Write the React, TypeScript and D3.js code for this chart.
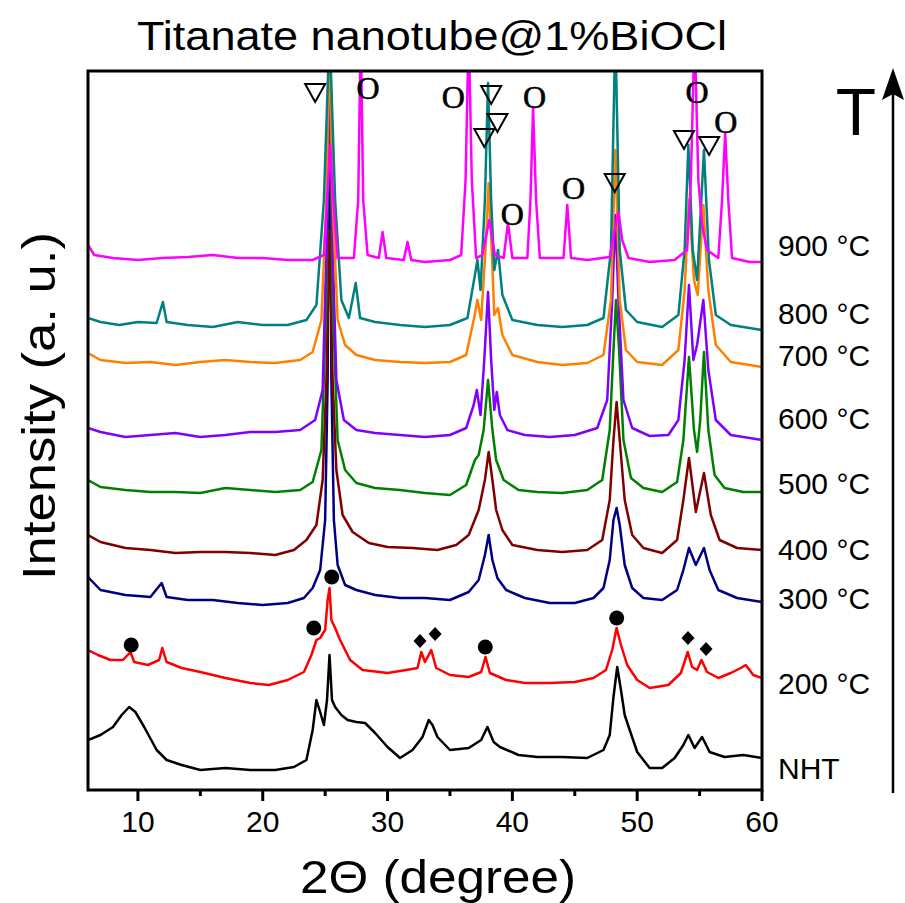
import React from "react";
import * as d3 from "d3";

type Pt = [number, number];

// ---------- data (2θ in degree, intensity in a.u. with stacking offset) ----------
const seriesLabels = ["NHT", "200 °C", "300 °C", "400 °C", "500 °C", "600 °C", "700 °C", "800 °C", "900 °C"];
const seriesColors = ["#000000", "#ff0000", "#000080", "#800000", "#008000", "#8000ff", "#ff8000", "#008080", "#ff00ff"];
const labelLevels = [22, 107, 192, 241, 307, 372, 435, 477, 545];

const xTicks = [10, 20, 30, 40, 50, 60];
const xMinorTicks = [15, 25, 35, 45, 55];

const nht: Pt[] = [
  [6, 50], [7, 55], [8, 63], [8.7, 75], [9.3, 83], [9.8, 78], [10.5, 63], [11.5, 40], [12.3, 30], [13.5, 25],
  [15, 20], [17, 22], [19, 20], [21, 20], [22.5, 23], [23.5, 30], [24, 60], [24.3, 90], [24.6, 78], [24.9, 65],
  [25.15, 90], [25.35, 135], [25.55, 90], [25.8, 83], [26.3, 75], [26.8, 70], [27.5, 68], [28.2, 67], [29, 57],
  [30, 43], [31, 32], [32, 40], [32.8, 53], [33.3, 70], [33.6, 65], [34, 53], [35, 40], [36.5, 42], [37.5, 50],
  [38, 63], [38.5, 48], [39, 43], [40.5, 35], [42, 33], [44, 33], [46, 32], [47.3, 40], [47.8, 55], [48.1, 93],
  [48.4, 123], [48.7, 100], [49, 75], [49.4, 60], [50, 38], [51, 22], [52, 22], [53, 32], [53.7, 45], [54.1, 55],
  [54.6, 42], [55.2, 53], [55.8, 38], [57, 33], [58.5, 35], [60, 32],
];

const t200: Pt[] = [
  [6, 140], [6.8, 135], [7.8, 130], [8.8, 130], [9.4, 138], [9.7, 128], [10.8, 125], [11.7, 130], [11.95, 142],
  [12.3, 128], [13.5, 122], [15, 118], [17, 112], [19, 107], [20.5, 105], [22, 110], [23.3, 118], [23.9, 135],
  [24.3, 150], [24.6, 152], [25, 160], [25.2, 190], [25.35, 202], [25.5, 170], [25.8, 162], [26.2, 150], [27, 130],
  [28, 120], [30, 117], [31.5, 120], [32.4, 122], [32.7, 138], [33, 128], [33.5, 140], [33.9, 122], [35, 115],
  [36.5, 113], [37.5, 118], [37.85, 133], [38.2, 117], [39.5, 110], [41, 107], [43, 107], [45, 108], [46.5, 112],
  [47.5, 120], [48, 140], [48.35, 162], [48.7, 145], [49.2, 125], [50, 110], [51, 102], [52.5, 105], [53.5, 117],
  [54.05, 138], [54.4, 123], [54.8, 120], [55.15, 130], [55.6, 118], [56.5, 112], [57.5, 117], [58.3, 122],
  [58.7, 125], [59.3, 115], [60, 112],
];

const t300: Pt[] = [
  [6, 213], [7, 200], [9, 195], [11, 193], [11.9, 207], [12.3, 193], [14, 190], [16, 190], [18, 187], [20, 185],
  [22, 187], [23.3, 192], [24, 202], [24.6, 220], [25, 270], [25.2, 410], [25.35, 760], [25.5, 410], [25.7, 270],
  [26, 225], [26.6, 205], [27.5, 200], [29, 195], [31, 192], [33, 192], [35, 190], [36.5, 198], [37.3, 210],
  [37.8, 235], [38.1, 255], [38.4, 230], [38.8, 212], [39.5, 200], [41, 192], [43, 187], [45, 187], [46.5, 192],
  [47.3, 202], [47.8, 230], [48.1, 270], [48.35, 282], [48.6, 265], [49, 225], [49.6, 202], [50.5, 192], [52, 190],
  [53.2, 200], [53.7, 220], [54.15, 242], [54.7, 225], [55.35, 242], [55.8, 220], [56.5, 200], [58, 192], [60, 188],
];

const t400: Pt[] = [
  [6, 255], [7, 248], [9, 242], [11, 240], [13, 237], [15, 238], [17, 238], [19, 237], [21, 235], [22.5, 240],
  [23.5, 250], [24.3, 265], [24.8, 310], [25.1, 410], [25.35, 560], [25.6, 410], [25.9, 320], [26.4, 275],
  [27.2, 258], [28.5, 247], [30, 243], [32, 242], [34, 240], [35.5, 245], [36.5, 255], [37.3, 280], [37.8, 310],
  [38.1, 338], [38.4, 310], [38.7, 280], [39.2, 260], [40, 245], [42, 240], [44, 238], [46, 240], [47.2, 250],
  [47.8, 290], [48.1, 350], [48.35, 388], [48.6, 350], [49, 290], [49.6, 255], [50.5, 242], [52, 237], [53.2, 250],
  [53.7, 290], [54.15, 332], [54.7, 278], [55.35, 317], [55.9, 275], [56.6, 250], [58, 242], [60, 240],
];

const t500: Pt[] = [
  [6, 310], [7, 303], [9, 300], [11, 298], [13, 298], [15, 297], [17, 302], [19, 300], [21, 298], [23, 300],
  [24, 308], [24.7, 340], [25.1, 490], [25.35, 760], [25.6, 490], [26, 350], [26.6, 320], [27.5, 307], [29, 302],
  [31, 300], [33, 297], [35, 295], [36.3, 305], [37, 330], [37.3, 335], [37.7, 360], [38.05, 410], [38.4, 360],
  [38.7, 330], [39.3, 310], [40.5, 300], [42, 298], [44, 297], [46, 300], [47.2, 310], [47.8, 360], [48.1, 440],
  [48.3, 490], [48.55, 440], [48.9, 350], [49.5, 312], [50.5, 302], [52, 298], [53.2, 308], [53.7, 350],
  [54.15, 433], [54.55, 360], [54.8, 338], [55.05, 370], [55.35, 438], [55.7, 360], [56.2, 315], [57, 302],
  [58.5, 298], [60, 298],
];

const t600: Pt[] = [
  [6, 362], [7, 358], [9, 353], [11, 355], [13, 357], [15, 353], [17, 355], [19, 358], [21, 358], [23, 360],
  [24.2, 370], [24.8, 400], [25.1, 540], [25.35, 760], [25.6, 540], [25.9, 410], [26.5, 370], [27.5, 360],
  [29, 357], [31, 355], [33, 353], [35, 355], [36.3, 362], [36.9, 385], [37.15, 400], [37.45, 375], [37.75, 430],
  [38.05, 498], [38.3, 430], [38.55, 380], [38.75, 398], [39, 375], [39.6, 360], [41, 355], [43, 353], [45, 355],
  [46.8, 362], [47.6, 390], [48, 490], [48.25, 575], [48.5, 490], [48.9, 390], [49.6, 362], [51, 354], [52.5, 355],
  [53.3, 370], [53.8, 430], [54.15, 505], [54.5, 430], [54.8, 445], [55.3, 490], [55.7, 420], [56.3, 370],
  [57.5, 355], [59, 352], [60, 350],
];

const t700: Pt[] = [
  [6, 437], [7, 430], [9, 427], [11, 428], [13, 425], [15, 428], [17, 430], [19, 428], [21, 427], [23, 430],
  [24, 438], [24.7, 470], [25.1, 590], [25.35, 760], [25.6, 590], [26, 470], [26.6, 445], [27.5, 435], [29, 430],
  [31, 428], [33, 427], [35, 428], [36.3, 435], [36.9, 470], [37.2, 490], [37.5, 470], [37.85, 540], [38.1, 607],
  [38.35, 540], [38.55, 475], [38.85, 482], [39.2, 455], [40, 435], [42, 428], [44, 425], [46, 427], [47.3, 435],
  [47.9, 490], [48.25, 640], [48.6, 490], [49.1, 440], [50, 428], [52, 425], [53.3, 440], [53.8, 500],
  [54.15, 590], [54.55, 510], [54.85, 495], [55.3, 585], [55.7, 500], [56.3, 445], [57.5, 428], [59, 425], [60, 423],
];

const t800: Pt[] = [
  [6, 472], [7, 468], [8.5, 465], [10, 468], [11.5, 467], [12, 488], [12.3, 468], [14, 465], [16, 463], [18, 468],
  [20, 465], [22, 465], [23.5, 470], [24.3, 485], [24.9, 590], [25.35, 760], [25.8, 590], [26.3, 490],
  [26.9, 472], [27.45, 507], [27.8, 472], [29, 468], [31, 465], [33, 463], [35, 465], [36.4, 472], [37, 515],
  [37.2, 530], [37.45, 500], [37.8, 590], [38.05, 707], [38.3, 590], [38.55, 520], [38.85, 540], [39.2, 495],
  [40, 470], [42, 465], [44, 463], [46, 465], [47.3, 472], [47.9, 540], [48.25, 760], [48.6, 540], [49.1, 480],
  [50, 468], [52, 463], [53.3, 475], [53.8, 540], [54.1, 645], [54.45, 540], [54.8, 510], [55.35, 640],
  [55.75, 530], [56.3, 475], [57.5, 465], [59, 462], [60, 460],
];

const t900: Pt[] = [
  [6, 545], [6.5, 535], [8, 532], [10, 530], [12, 532], [14, 533], [16, 535], [18, 532], [20, 532], [22, 530],
  [24, 530], [24.9, 535], [25.15, 590], [25.4, 645], [25.65, 590], [26, 532], [27.3, 532], [27.65, 590],
  [27.85, 760], [28.05, 590], [28.4, 535], [29.3, 532], [29.6, 558], [29.9, 532], [31.3, 530], [31.6, 548],
  [31.9, 530], [33, 528], [35, 530], [35.9, 535], [36.25, 610], [36.5, 760], [36.75, 610], [37.1, 532],
  [37.6, 535], [38.15, 570], [38.6, 535], [39.3, 532], [39.65, 567], [40, 532], [41.2, 532], [41.45, 590],
  [41.66, 683], [41.9, 590], [42.2, 532], [44.1, 532], [44.4, 585], [44.7, 532], [46, 530], [47.8, 533],
  [48.2, 560], [48.5, 578], [48.8, 550], [49.3, 532], [51, 528], [53, 530], [54, 540], [54.3, 610], [54.6, 760],
  [54.9, 610], [55.2, 565], [55.6, 540], [56.5, 532], [56.8, 590], [57.05, 657], [57.3, 590], [57.6, 532],
  [59, 528], [60, 528],
];

const allSeries: Pt[][] = [nht, t200, t300, t400, t500, t600, t700, t800, t900];

// phase markers: anatase (▽), rutile (O), titanate (●), BiOCl (◆)
const anataseMarks: Pt[] = [[24.2, 697], [38.3, 695], [38.8, 667], [37.75, 652], [48.2, 607], [53.75, 650], [55.76, 644]];
const rutileMarks: Pt[] = [[28.43, 702], [35.26, 693], [41.77, 693], [44.9, 602], [40.0, 576], [54.8, 698], [57.1, 668]];
const titanateMarks: Pt[] = [[9.46, 145], [24.09, 162], [25.53, 213], [37.83, 143], [48.36, 172]];
const biocLMarks: Pt[] = [[32.6, 149], [33.81, 156], [54.07, 152], [55.52, 141]];

// ---------- layout ----------
const W = 905;
const H = 903;
const plot = { left: 88, right: 762, top: 71, bottom: 790 };

export default function App() {
  const x = d3.scaleLinear().domain([6, 60]).range([plot.left, plot.right]);
  const y = d3.scaleLinear().domain([0, 719]).range([plot.bottom, plot.top]);
  const line = d3
    .line<Pt>()
    .x((d) => x(d[0]))
    .y((d) => y(d[1]));

  const sans = "'Liberation Sans', Arial, sans-serif";
  const serif = "'Liberation Serif', 'Times New Roman', serif";

  return (
    <div style={{ position: "absolute", left: 0, top: 0, width: W, height: H, background: "#fff" }}>
      <svg width={W} height={H} viewBox={`0 0 ${W} ${H}`} style={{ display: "block" }}>
        <rect x={0} y={0} width={W} height={H} fill="#fff" />
        <defs>
          <clipPath id="plotClip">
            <rect x={plot.left} y={plot.top} width={plot.right - plot.left} height={plot.bottom - plot.top} />
          </clipPath>
        </defs>

        {/* title */}
        <text x={432} y={50} fontFamily={sans} fontSize={40} textAnchor="middle" textLength={590} lengthAdjust="spacingAndGlyphs">
          Titanate nanotube@1%BiOCl
        </text>

        {/* traces */}
        <g clipPath="url(#plotClip)">
          {allSeries.map((s, i) => (
            <path key={i} d={line(s) || ""} fill="none" stroke={seriesColors[i]} strokeWidth={2.5} strokeLinejoin="round" />
          ))}
        </g>

        {/* markers */}
        {anataseMarks.map((d, i) => {
          const cx = x(d[0]);
          const cy = y(d[1]);
          return (
            <path key={"a" + i} d={`M${cx - 10},${cy - 9}L${cx + 10},${cy - 9}L${cx},${cy + 9}Z`} fill="none" stroke="#000" strokeWidth={2} />
          );
        })}
        {rutileMarks.map((d, i) => (
          <text key={"r" + i} x={x(d[0])} y={y(d[1]) + 11} fontFamily={serif} fontSize={32} textAnchor="middle" fill="#000" stroke="#000" strokeWidth={0.6}>
            O
          </text>
        ))}
        {titanateMarks.map((d, i) => (
          <circle key={"t" + i} cx={x(d[0])} cy={y(d[1])} r={7.5} fill="#000" />
        ))}
        {biocLMarks.map((d, i) => {
          const cx = x(d[0]);
          const cy = y(d[1]);
          return <path key={"b" + i} d={`M${cx},${cy - 7}L${cx + 6.5},${cy}L${cx},${cy + 7}L${cx - 6.5},${cy}Z`} fill="#000" />;
        })}

        {/* frame */}
        <rect x={plot.left} y={plot.top} width={plot.right - plot.left} height={plot.bottom - plot.top} fill="none" stroke="#000" strokeWidth={3} />

        {/* x ticks */}
        {xTicks.map((t) => (
          <g key={"xt" + t}>
            <line x1={x(t)} x2={x(t)} y1={plot.bottom} y2={plot.bottom + 11} stroke="#000" strokeWidth={3} />
            <text x={x(t)} y={832} fontFamily={sans} fontSize={30} textAnchor="middle">
              {t}
            </text>
          </g>
        ))}
        {xMinorTicks.map((t) => (
          <line key={"xm" + t} x1={x(t)} x2={x(t)} y1={plot.bottom} y2={plot.bottom + 6} stroke="#000" strokeWidth={3} />
        ))}

        {/* axis titles */}
        <text x={438} y={893} fontFamily={sans} fontSize={46} textAnchor="middle" textLength={276} lengthAdjust="spacingAndGlyphs">
          2Θ (degree)
        </text>
        <text
          transform="translate(55,406) rotate(-90)"
          fontFamily={sans}
          fontSize={46}
          textAnchor="middle"
          textLength={348}
          lengthAdjust="spacingAndGlyphs"
        >
          Intensity (a. u.)
        </text>

        {/* series labels */}
        {seriesLabels.map((lab, i) => (
          <text key={"l" + i} x={778} y={y(labelLevels[i]) + 11} fontFamily={sans} fontSize={30} fill="#000">
            {lab}
          </text>
        ))}

        {/* temperature arrow */}
        <text x={856} y={135} fontFamily={sans} fontSize={66} textAnchor="middle">
          T
        </text>
        <line x1={893} x2={893} y1={793} y2={92} stroke="#000" strokeWidth={2.5} />
        <path d="M893,68L882,100L893,94L904,100Z" fill="#000" />
      </svg>
    </div>
  );
}
